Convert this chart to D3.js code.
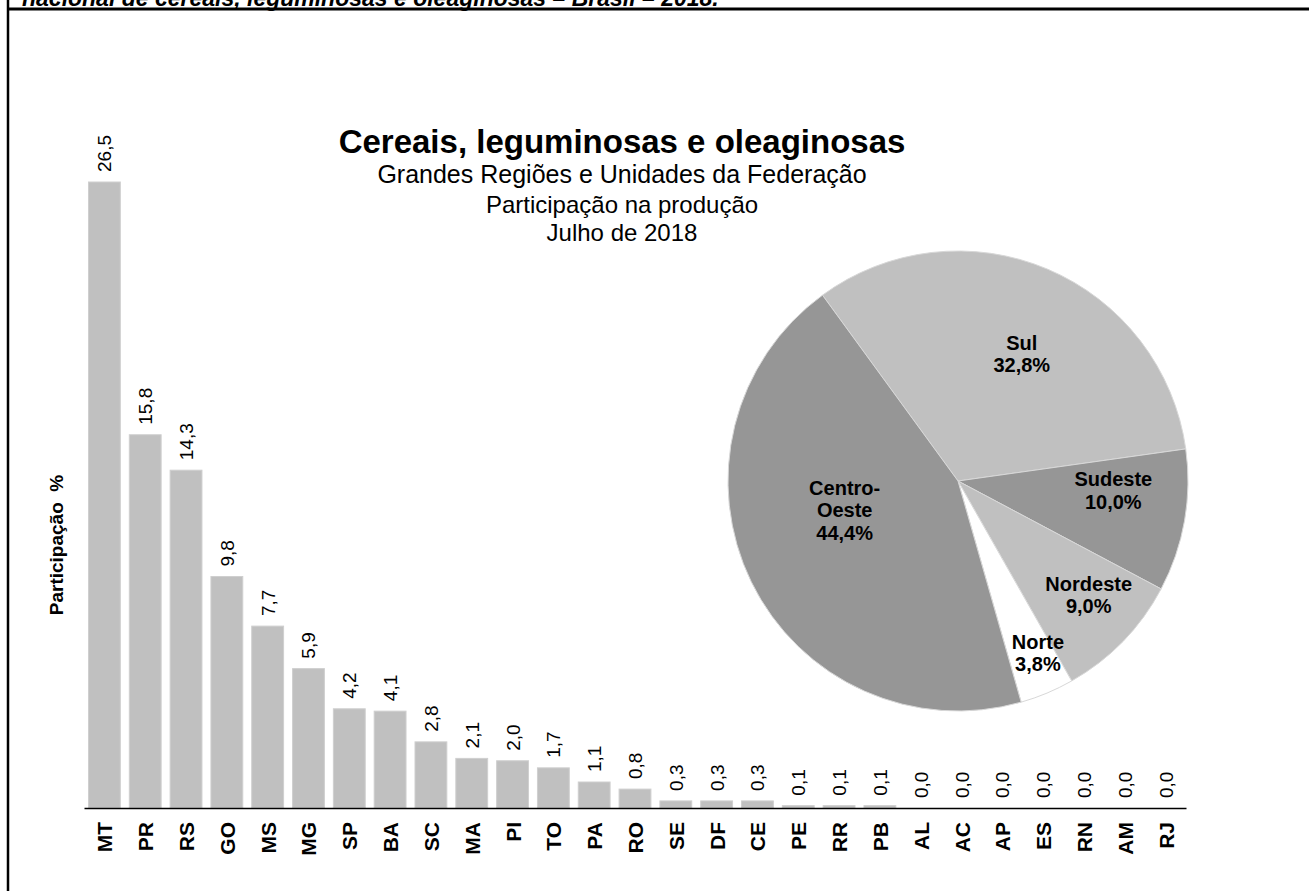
<!DOCTYPE html>
<html>
<head>
<meta charset="utf-8">
<script src="https://cdn.jsdelivr.net/npm/d3@7"></script>
<style>
  body { margin: 0; background: #fff; }
  svg { display: block; font-family: "Liberation Sans", Arial, sans-serif; }
</style>
</head>
<body>
<svg id="chart" width="1309" height="891"></svg>
<script>
// dados: participação por UF (%)
const ufs = ["MT","PR","RS","GO","MS","MG","SP","BA","SC","MA","PI","TO","PA","RO","SE","DF","CE","PE","RR","PB","AL","AC","AP","ES","RN","AM","RJ"];
const ufValues = [26.5,15.8,14.3,9.8,7.7,5.9,4.2,4.1,2.8,2.1,2.0,1.7,1.1,0.8,0.3,0.3,0.3,0.1,0.1,0.1,0.0,0.0,0.0,0.0,0.0,0.0,0.0];

// dados: participação por grande região (%)
const regions = ["Sul","Sudeste","Nordeste","Norte","Centro-Oeste"];
const regionValues = [32.8,10.0,9.0,3.8,44.4];
const regionLabelLines = [["Sul"],["Sudeste"],["Nordeste"],["Norte"],["Centro-","Oeste"]];

const titleLines = ["Grandes Regiões e Unidades da Federação","Participação na produção","Julho de 2018"];

const svg = d3.select("#chart");
const fmt = (v) => d3.format(".1f")(v).replace(".", ",");

// moldura e título cortado no topo
svg.append("text")
    .attr("x", 22).attr("y", 6)
    .attr("font-size", 23).attr("font-weight", "bold").attr("font-style", "italic")
    .text("nacional de cereais, leguminosas e oleaginosas – Brasil – 2018.");
svg.append("line").attr("x1", 8).attr("y1", 0).attr("x2", 8).attr("y2", 891)
    .attr("stroke", "#000").attr("stroke-width", 2.5);
svg.append("line").attr("x1", 8).attr("y1", 9).attr("x2", 1309).attr("y2", 9)
    .attr("stroke", "#000").attr("stroke-width", 3);

// ---- barras
const xScale = d3.scaleBand()
    .domain(ufs)
    .range([84, 1186])
    .paddingInner(0.22)
    .paddingOuter(0.11);

const yScale = d3.scaleLinear()
    .domain([0, 26.5])
    .range([808, 182]);

const bars = svg.append("g").attr("class", "bars");
bars.selectAll("rect")
    .data(ufs)
    .enter()
    .append("rect")
    .attr("x", (d) => xScale(d))
    .attr("y", (d, i) => yScale(ufValues[i]))
    .attr("width", xScale.bandwidth())
    .attr("height", (d, i) => yScale(0) - yScale(ufValues[i]))
    .attr("fill", "#c0c0c0")
    .attr("stroke", "#cfcfcf")
    .attr("stroke-width", 1);

// rótulos de valor (rotacionados)
bars.selectAll("text.val")
    .data(ufs)
    .enter()
    .append("text")
    .attr("class", "val")
    .attr("transform", (d, i) => {
        let cx = xScale(d) + xScale.bandwidth() / 2 + 7;
        let cy = yScale(ufValues[i]) - 10;
        return `translate(${cx}, ${cy}) rotate(-90)`;
    })
    .attr("font-size", 19)
    .attr("fill", "#000")
    .text((d, i) => fmt(ufValues[i]));

// eixo x
const xAxis = svg.append("g")
    .attr("class", "x-axis")
    .attr("transform", `translate(0, ${yScale(0)})`)
    .call(d3.axisBottom(xScale).tickSize(0).tickSizeOuter(0));
xAxis.select(".domain").attr("stroke", "#000").attr("stroke-width", 1.5);
xAxis.selectAll(".tick text")
    .attr("transform", "translate(8, 14) rotate(-90)")
    .attr("x", 0).attr("y", 0).attr("dy", 0)
    .attr("text-anchor", "end")
    .attr("font-size", 21)
    .attr("font-weight", "bold")
    .attr("font-family", "Liberation Sans, Arial, sans-serif")
    .attr("fill", "#000");

// título eixo y
svg.append("text")
    .attr("transform", "translate(63, 545) rotate(-90)")
    .attr("text-anchor", "middle")
    .attr("font-size", 19)
    .attr("font-weight", "bold")
    .style("white-space", "pre")
    .text("Participação  %");

// ---- títulos
svg.append("text")
    .attr("x", 622).attr("y", 153)
    .attr("text-anchor", "middle")
    .attr("font-size", 33).attr("font-weight", "bold")
    .text("Cereais, leguminosas e oleaginosas");

const subSizes = [25, 24, 24];
const subY = [183, 213, 241];
titleLines.forEach((t, i) => {
    svg.append("text")
        .attr("x", 622).attr("y", subY[i])
        .attr("text-anchor", "middle")
        .attr("font-size", subSizes[i])
        .text(t);
});

// ---- pizza
const pieCx = 958, pieCy = 481, pieR = 230;
const pieColors = ["#c0c0c0", "#969696", "#c0c0c0", "#ffffff", "#969696"];
const labelRadius = [0.6, 0.69, 0.75, 0.83, 0.5];
const labelShift = [[10, 0], [-1, -18], [7, -6], [6, -4], [-10, -21]];

const startA = -36.1 * Math.PI / 180;
const pie = d3.pie()
    .sort(null)
    .startAngle(startA)
    .endAngle(startA + 2 * Math.PI)
    .value((d, i) => regionValues[i]);

const arcs = pie(regions);
const arc = d3.arc().innerRadius(0).outerRadius(pieR);

const pieG = svg.append("g").attr("transform", `translate(${pieCx}, ${pieCy})`);
pieG.selectAll("path")
    .data(arcs)
    .enter()
    .append("path")
    .attr("d", arc)
    .attr("fill", (d, i) => pieColors[i])
    .attr("stroke", "#d8d8d8")
    .attr("stroke-width", 1);

arcs.forEach((a, i) => {
    const lr = labelRadius[i] * pieR;
    const c = d3.arc().innerRadius(lr).outerRadius(lr).centroid(a);
    const lines = regionLabelLines[i].concat([fmt(regionValues[i]) + "%"]);
    const t = pieG.append("text")
        .attr("text-anchor", "middle")
        .attr("font-size", 20)
        .attr("font-weight", "bold");
    const lineH = 22.5;
    const cx = c[0] + labelShift[i][0];
    const y0 = c[1] + labelShift[i][1] - (lines.length - 1) * lineH / 2 + 7;
    lines.forEach((l, j) => {
        t.append("tspan")
            .attr("x", cx)
            .attr("y", y0 + j * lineH)
            .text(l);
    });
});
</script>
</body>
</html>
